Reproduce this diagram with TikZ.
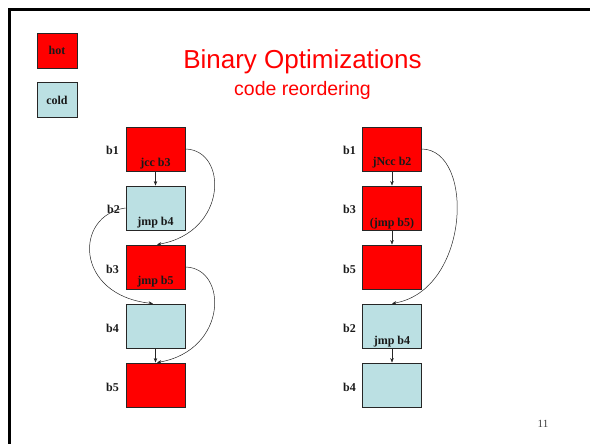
\documentclass[tikz,border=0pt]{standalone}
\usepackage{fontspec}
\setmainfont{Liberation Serif}
\newfontfamily\arialf{Liberation Sans}
\usetikzlibrary{arrows.meta}
\definecolor{hotred}{RGB}{255,0,0}
\definecolor{coldblue}{RGB}{187,224,227}
\begin{document}
\begin{tikzpicture}[x=1pt,y=-1pt,
 blk/.style={draw=black!85,line width=0.9pt,minimum width=59pt,minimum height=44pt,inner sep=0pt},
 hotb/.style={blk,fill=hotred},
 coldb/.style={blk,fill=coldblue},
 lgd/.style={draw=black!85,line width=0.9pt,minimum width=40pt,minimum height=35pt,inner sep=0pt,font=\fontsize{12.5}{14}\selectfont\bfseries},
 lbl/.style={font=\fontsize{12}{14}\selectfont\bfseries,inner sep=0pt,text=black!90},
 arr/.style={draw=black!85,line width=0.5pt,-{Stealth[length=4.5pt,width=3.5pt]}}]
\useasboundingbox (0,0) rectangle (590,444);
\clip (0,0) rectangle (590,444);
\draw[line width=3pt] (9.5,700) -- (9.5,10) -- (700,10);

% legend
\node[lgd,fill=hotred] (hot) at (57,50.5) {};
\node[lbl,anchor=base] (hott) at (57,55) {hot};
\node[lgd,fill=coldblue] (cold) at (57,99.5) {};
\node[lbl,anchor=base] (coldt) at (57,104.5) {cold};

% title
\node[anchor=base,inner sep=0pt,text=hotred,font=\arialf\fontsize{26}{30}\selectfont] (title) at (302.5,69) {Binary Optimizations};
\node[anchor=base,inner sep=0pt,text=hotred,font=\arialf\fontsize{19.5}{23}\selectfont] (sub) at (302.5,96) {code reordering};

% left column
\node[hotb]  (L1) at (155.5,149) {};
\node[coldb] (L2) at (155.5,208) {};
\node[hotb]  (L3) at (155.5,267) {};
\node[coldb] (L4) at (155.5,326) {};
\node[hotb]  (L5) at (155.5,385) {};
\node[lbl,anchor=base east] (l1) at (119,155) {b1};
\node[lbl,anchor=base east] (l2) at (120,214) {b2};
\node[lbl,anchor=base east] (l3) at (119,273) {b3};
\node[lbl,anchor=base east] (l4) at (119,332) {b4};
\node[lbl,anchor=base east] (l5) at (119,391) {b5};
\node[lbl,anchor=base] (i1) at (155.5,166.5) {jcc b3};
\node[lbl,anchor=base] (i2) at (155.5,225.5) {jmp b4};
\node[lbl,anchor=base] (i3) at (155.5,284.5) {jmp b5};

% right column
\node[hotb]  (R1) at (392,149) {};
\node[hotb]  (R3) at (392,208) {};
\node[hotb]  (R5) at (392,267) {};
\node[coldb] (R2) at (392,326) {};
\node[coldb] (R4) at (392,385) {};
\node[lbl,anchor=base east] (r1) at (356,155) {b1};
\node[lbl,anchor=base east] (r3) at (356,214) {b3};
\node[lbl,anchor=base east] (r5) at (356,273) {b5};
\node[lbl,anchor=base east] (r2) at (356,332) {b2};
\node[lbl,anchor=base east] (r4) at (356,391) {b4};
\node[lbl,anchor=base] (j1) at (392,166) {jNcc b2};
\node[lbl,anchor=base] (j3) at (392,226) {(jmp b5)};
\node[lbl,anchor=base] (j2) at (392,344) {jmp b4};

% left arrows
\draw[arr] (L1.south) -- (L2.north);
\draw[arr] (L4.south) -- (L5.north);
\draw[arr] (L1.east) .. controls (228,150) and (228,232) .. ([xshift=1.5pt]L3.north);
\draw[arr] (L2.west) .. controls (74,215) and (74,295) .. ([xshift=-2.5pt]L4.north);
\draw[arr] (L3.east) .. controls (228,268) and (228,350) .. ([xshift=1.5pt]L5.north);

% right arrows
\draw[arr] (R1.south) -- (R3.north);
\draw[arr] (R3.south) -- (R5.north);
\draw[arr] (R2.south) -- (R4.north);
\draw[arr] (R1.east) .. controls (475,150) and (470,290) .. (R2.north);

% page number
\node[anchor=base,inner sep=0pt,text=black!75,font=\fontsize{11}{13}\selectfont] (pg) at (543,427) {11};
\end{tikzpicture}
\end{document}
